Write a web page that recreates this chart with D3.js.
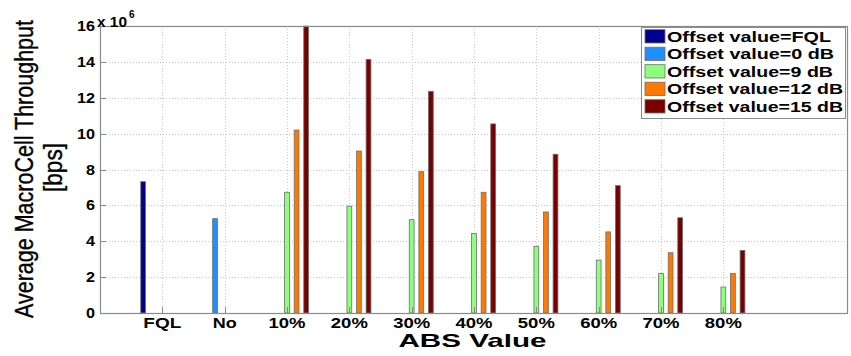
<!DOCTYPE html>
<html>
<head>
<meta charset="utf-8">
<script src="https://cdn.jsdelivr.net/npm/d3@7"></script>
<style>
  html, body { margin: 0; padding: 0; background: #fff; }
  svg { display: block; font-family: "Liberation Sans", Arial, sans-serif; }
</style>
</head>
<body>
<svg id="chart" width="851" height="356"></svg>
<script>
// Average macrocell throughput (x 10^6 bps) for each ABS value
const categories = ["FQL", "No", "10%", "20%", "30%", "40%", "50%", "60%", "70%", "80%"];
const seriesNames = ["Offset value=FQL", "Offset value=0 dB", "Offset value=9 dB", "Offset value=12 dB", "Offset value=15 dB"];
const seriesColors = ["#00008c", "#1f8fff", "#8cff7c", "#ff7800", "#7a0000"];
const offsetFQL = [7.32, 0, 0, 0, 0, 0, 0, 0, 0, 0];
const offset0dB = [0, 5.26, 0, 0, 0, 0, 0, 0, 0, 0];
const offset9dB = [0, 0, 6.73, 5.96, 5.20, 4.44, 3.72, 2.95, 2.21, 1.45];
const offset12dB = [0, 0, 10.20, 9.03, 7.88, 6.73, 5.63, 4.52, 3.36, 2.21];
const offset15dB = [0, 0, 16.00, 14.14, 12.36, 10.54, 8.85, 7.10, 5.31, 3.49];
const yTicks = [0, 2, 4, 6, 8, 10, 12, 14, 16];

const series = [offsetFQL, offset0dB, offset9dB, offset12dB, offset15dB];

const svg = d3.select("#chart");
const plotL = 100, plotR = 848, plotT = 26, plotB = 313;

// categories sit at positions 1..10 on a 0..12 axis
const x = d3.scaleLinear().domain([0, 12]).range([plotL, plotR]);
const y = d3.scaleLinear().domain([0, 16]).range([plotB, plotT]);

const groupWidth = 5 / 6.5;           // width of a whole group of bars
const slot = groupWidth / 5;          // spacing between neighbouring bars
const barW = slot * 0.5;              // drawn bar width

// grid lines (dotted)
const grid = svg.append("g");
grid.selectAll("line.gy").data(yTicks.slice(1, -1)).join("line")
  .attr("x1", plotL).attr("x2", plotR)
  .attr("y1", d => Math.round(y(d)) + 0.5).attr("y2", d => Math.round(y(d)) + 0.5)
  .attr("stroke", "#c8c8c8").attr("stroke-width", 1).attr("stroke-dasharray", "1,2");
grid.selectAll("line.gx").data(categories).join("line")
  .attr("x1", (d, i) => Math.round(x(i + 1)) + 0.5).attr("x2", (d, i) => Math.round(x(i + 1)) + 0.5)
  .attr("y1", plotT).attr("y2", plotB)
  .attr("stroke", "#c8c8c8").attr("stroke-width", 1).attr("stroke-dasharray", "1,2");

// bars
const bars = svg.append("g");
series.forEach((vals, s) => {
  bars.selectAll(null).data(vals.map((v, i) => ({ v, i })).filter(d => d.v > 0)).join("rect")
    .attr("x", d => x(d.i + 1 + (s - 2) * slot - barW / 2))
    .attr("width", x(barW) - x(0))
    .attr("y", d => y(d.v))
    .attr("height", d => y(0) - y(d.v))
    .attr("fill", seriesColors[s])
    .attr("stroke", "#6e6e6e").attr("stroke-width", 0.8);
});

// axes box
const axisCol = "#8a8a8a";
svg.append("rect").attr("x", plotL + 0.5).attr("y", plotT + 0.5)
  .attr("width", plotR - plotL - 1).attr("height", plotB - plotT)
  .attr("fill", "none").attr("stroke", axisCol).attr("stroke-width", 1.2);

// tick marks
const ticks = svg.append("g").attr("stroke", axisCol).attr("stroke-width", 1);
ticks.selectAll("line.tx").data(categories).join("line")
  .attr("x1", (d, i) => Math.round(x(i + 1)) + 0.5).attr("x2", (d, i) => Math.round(x(i + 1)) + 0.5)
  .attr("y1", plotB).attr("y2", plotB - 6);
ticks.selectAll("line.ty").data(yTicks).join("line")
  .attr("x1", plotL).attr("x2", plotL + 6)
  .attr("y1", d => Math.round(y(d)) + 0.5).attr("y2", d => Math.round(y(d)) + 0.5);

// y tick labels
svg.append("g").selectAll("text").data(yTicks).join("text")
  .attr("x", 95).attr("y", d => y(d) + 5)
  .attr("text-anchor", "end").attr("font-size", 14).attr("font-weight", "bold")
  .attr("textLength", d => String(d).length * 9).attr("lengthAdjust", "spacingAndGlyphs")
  .text(d => d);

// exponent label
svg.append("text").attr("x", 97).attr("y", 27)
  .attr("font-size", 14).attr("font-weight", "bold")
  .attr("textLength", 30).attr("lengthAdjust", "spacingAndGlyphs")
  .text("x 10");
svg.append("text").attr("x", 129).attr("y", 18)
  .attr("font-size", 10).attr("font-weight", "bold")
  .text("6");

// x tick labels
const xLabWidth = { "FQL": 38, "No": 24 };
svg.append("g").selectAll("text").data(categories).join("text")
  .attr("x", (d, i) => x(i + 1)).attr("y", 328)
  .attr("text-anchor", "middle").attr("font-size", 14).attr("font-weight", "bold")
  .attr("textLength", d => xLabWidth[d] || 37).attr("lengthAdjust", "spacingAndGlyphs")
  .text(d => d);

// axis titles
svg.append("text").attr("x", 472.5).attr("y", 346.5)
  .attr("text-anchor", "middle").attr("font-size", 19).attr("font-weight", "bold")
  .attr("textLength", 148).attr("lengthAdjust", "spacingAndGlyphs")
  .text("ABS Value");

// y title: glyphs slightly widened across the baseline
const yTitle = svg.append("g").attr("stroke", "#000").attr("stroke-width", 0.3);
yTitle.append("text").attr("transform", "translate(33,169) rotate(-90) scale(1,1.18)")
  .attr("text-anchor", "middle").attr("font-size", 21.5)
  .attr("textLength", 298).attr("lengthAdjust", "spacingAndGlyphs")
  .text("Average MacroCell Throughput");
yTitle.append("text").attr("transform", "translate(62,167.5) rotate(-90) scale(1,1.18)")
  .attr("text-anchor", "middle").attr("font-size", 21.5)
  .attr("textLength", 49).attr("lengthAdjust", "spacingAndGlyphs")
  .text("[bps]");

// legend
const legend = svg.append("g");
legend.append("rect").attr("x", 641.5).attr("y", 27.5).attr("width", 204).attr("height", 91)
  .attr("fill", "#fff").attr("stroke", "#8a8a8a").attr("stroke-width", 1);
const legWidths = [164, 167, 166, 176, 176];
seriesNames.forEach((name, s) => {
  const base = 41.7 + s * 17.5;
  legend.append("rect").attr("x", 645).attr("y", base - 12).attr("width", 20).attr("height", 13.3)
    .attr("fill", seriesColors[s]).attr("stroke", "#6e6e6e").attr("stroke-width", 0.8);
  legend.append("text").attr("x", 667).attr("y", base)
    .attr("font-size", 14).attr("font-weight", "bold")
    .attr("textLength", legWidths[s]).attr("lengthAdjust", "spacingAndGlyphs")
    .text(name);
});
</script>
</body>
</html>
